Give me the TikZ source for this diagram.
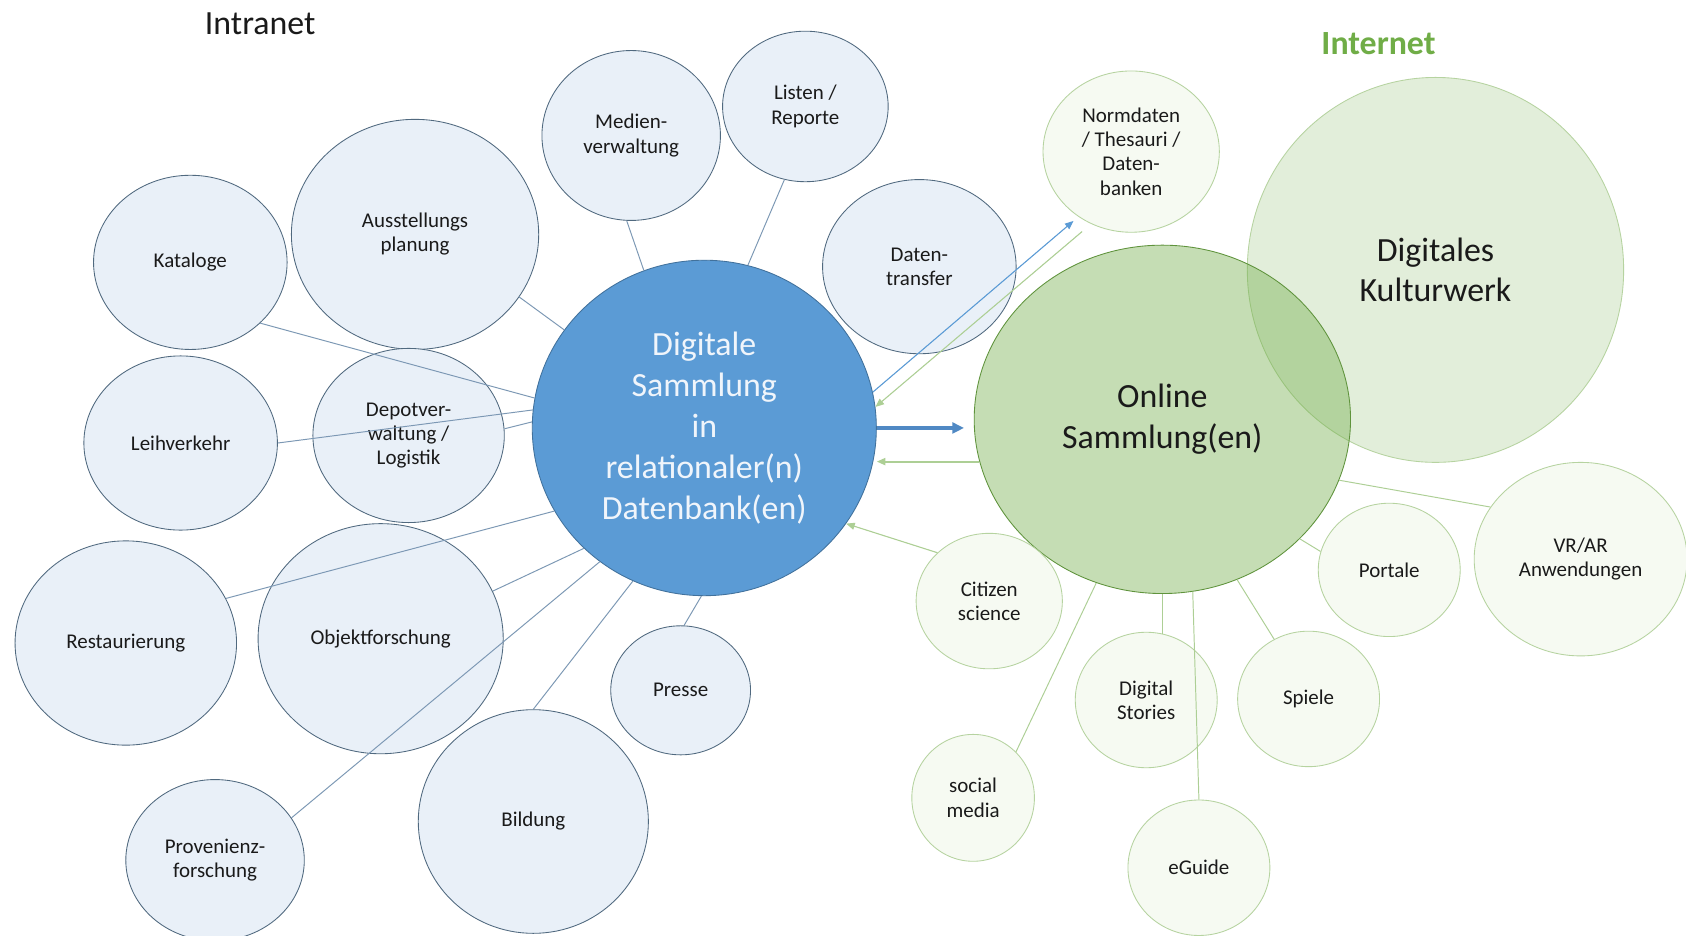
\documentclass[tikz,border=0pt]{standalone}
\usepackage{fontspec}
\setmainfont{Carlito}
\usetikzlibrary{shapes.geometric,arrows.meta}

\definecolor{bluefill}{HTML}{E9F0F8}
\definecolor{blueedge}{HTML}{50697F}
\definecolor{bluewire}{HTML}{7C98B4}
\definecolor{corefill}{HTML}{5B9BD5}
\definecolor{coreedge}{HTML}{41719C}
\definecolor{corearrow}{HTML}{5089C4}
\definecolor{coretext}{HTML}{F0F5FB}
\definecolor{officegreen}{HTML}{70AD47}
\definecolor{greenedge}{HTML}{B6D3A0}
\definecolor{greenfill}{HTML}{F6FAF2}
\definecolor{greenwire}{HTML}{ADCF95}
\definecolor{inktext}{HTML}{1A1A1A}

\newcommand\lblfont{\fontsize{19.5}{22.5}\selectfont}
\newcommand\headfont{\fontsize{31.5}{38}\selectfont}

\tikzset{
  dim/.style 2 args={minimum width=#1pt, minimum height=#2pt},
  bubble/.style={ellipse, inner sep=0pt, align=center, font=\lblfont, text=inktext},
  bluebubble/.style={bubble, draw=blueedge, fill=bluefill, line width=0.8pt},
  greenbubble/.style={bubble, draw=greenedge, fill=greenfill, line width=0.8pt},
  bluelink/.style={draw=bluewire, line width=0.9pt},
  greenlink/.style={draw=greenwire, line width=0.9pt},
  tip/.style={-{Triangle[length=8pt,width=6.5pt]}},
  bigtip/.style={-{Triangle[length=11pt,width=10pt]}},
}

\begin{document}
\begin{tikzpicture}[x=1pt,y=-1pt]
\useasboundingbox (0,0) rectangle (1568,870);
\fill[white] (0,0) rectangle (1568,870);

% headings
\node[font=\headfont, text=inktext] (intra) at (242,22) {Intranet};
\node[font=\headfont\bfseries, text=officegreen] (inter) at (1282,41) {Internet};

% intranet bubbles
\node[bluebubble, dim={180}{162}] (kat) at (177,244) {Kataloge};
\node[bluebubble, dim={230}{214}] (aus) at (386,218) {Ausstellungs\\planung};
\node[bluebubble, dim={166}{158}] (med) at (587,126) {Medien-\\verwaltung};
\node[bluebubble, dim={154}{140}] (lis) at (749,99) {Listen /\\Reporte};
\node[bluebubble, dim={180}{162}] (dtr) at (855,248) {Daten-\\transfer};
\node[bluebubble, dim={180}{162}] (lei) at (168,412) {Leihverkehr};
\node[bluebubble, dim={178}{162}] (dep) at (380,405) {Depotver-\\waltung /\\Logistik};
\node[bluebubble, dim={206}{190}] (res) at (117,598) {Restaurierung};
\node[bluebubble, dim={228}{214}] (obj) at (354,594) {Objektforschung};
\node[bluebubble, dim={166}{150}] (pro) at (200,800) {Provenienz-\\forschung};
\node[bluebubble, dim={214}{208}] (bil) at (496,764) {Bildung};
\node[bluebubble, dim={130}{120}] (pre) at (633,642) {Presse};

% central database
\node[bubble, draw=coreedge, fill=corefill, line width=0.8pt, dim={320}{312},
      font=\headfont, text=coretext] (main) at (655,398)
      {Digitale\\Sammlung\\in\\relationaler(n)\\Datenbank(en)};

% internet side
\node[bubble, draw=greenedge, line width=0.8pt, fill=officegreen, fill opacity=0.2,
      text opacity=1, dim={350}{358}, font=\headfont] (kul) at (1335,251)
      {Digitales\\Kulturwerk};
\node[bubble, draw=officegreen!85!black, line width=0.8pt, fill=officegreen, fill opacity=0.405,
      text opacity=1, dim={350}{324}, font=\headfont] (onl) at (1081,390)
      {Online\\Sammlung(en)};

\node[greenbubble, dim={164}{150}] (nor) at (1052,141) {Normdaten\\/ Thesauri /\\Daten-\\banken};
\node[greenbubble, dim={136}{126}] (cit) at (920,559) {Citizen\\science};
\node[greenbubble, dim={132}{126}] (dst) at (1066,651) {Digital\\Stories};
\node[greenbubble, dim={132}{126}] (spi) at (1217,650) {Spiele};
\node[greenbubble, dim={132}{124}] (por) at (1292,530) {Portale};
\node[greenbubble, dim={198}{180}] (vra) at (1470,520) {VR/AR\\Anwendungen};
\node[greenbubble, dim={114}{118}] (soc) at (905,742) {social\\media};
\node[greenbubble, dim={132}{126}] (egu) at (1115,807) {eGuide};

% intranet connectors
\draw[bluelink] (kat.-41) -- (main.170);
\draw[bluelink] (aus.-31) -- (main.145);
\draw[bluelink] (med.-93) -- (main.111);
\draw[bluelink] (lis.-106) -- (main.75);
\draw[bluelink] (lei.0) -- (main.174);
\draw[bluelink] (dep.4) -- (main.178);
\draw[bluelink] (res.24) -- (main.209);
\draw[bluelink] (obj.23) -- (main.225);
\draw[bluelink] (pro.29) -- (main.232);
\draw[bluelink] (bil.90) -- (main.245);
\draw[bluelink] (pre.87) -- (main.269);

% data flows
\draw[tip, draw=corefill, fill=corefill, line width=1pt, shorten >=6pt] (main.12) -- (nor.-129);
\draw[tip, draw=greenwire, fill=greenwire, line width=1pt, shorten <=11pt] (nor.-119) -- (main.7);
\draw[bigtip, draw=corearrow, fill=corearrow, line width=3pt, shorten >=9pt] (main.east) -- (onl.west |- main.east);
\draw[tip, draw=greenwire, fill=greenwire, line width=1.8pt] (onl.193) -- (onl.193 -| main.east);
\draw[tip, draw=greenwire, fill=greenwire, line width=1pt] (cit.137) -- (main.-34);

% internet connectors
\draw[greenlink] (soc.47) -- (onl.248);
\draw[greenlink] (dst.76) -- (dst.76 |- onl.south);
\draw[greenlink] (egu.north) -- (onl.-80);
\draw[greenlink] (spi.120) -- (onl.-65);
\draw[greenlink] (por.165) -- (onl.-41);
\draw[greenlink] (vra.150) -- (onl.-19);
\end{tikzpicture}
\end{document}
